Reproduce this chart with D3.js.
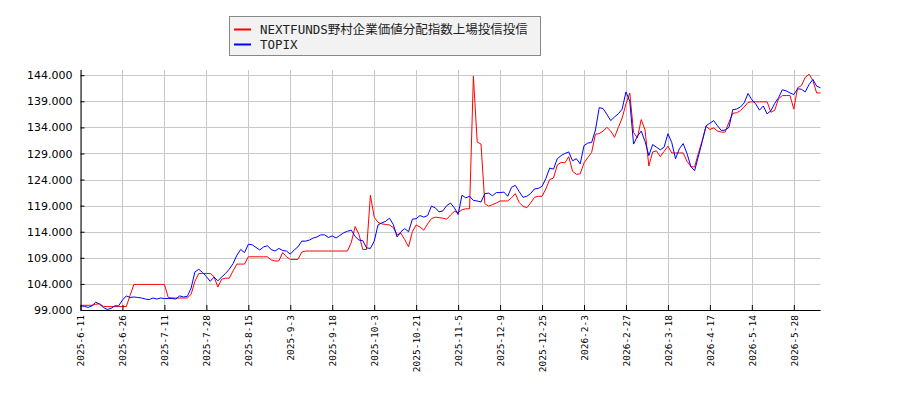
<!DOCTYPE html>
<html><head><meta charset="utf-8">
<script src="https://cdn.jsdelivr.net/npm/d3@7"></script>
<style>body{margin:0;background:#fff}</style>
</head><body>
<svg id="c" width="900" height="400"></svg>
<script>
const seriesNames = ["NEXTFUNDS野村企業価値分配指数上場投信投信", "TOPIX"];
const seriesColors = ["#ff0000", "#0000ff"];
const tickLabels = ["2025-6-11","2025-6-26","2025-7-11","2025-7-28","2025-8-15","2025-9-3","2025-9-18","2025-10-3","2025-10-21","2025-11-5","2025-12-9","2025-12-25","2026-2-3","2026-2-27","2026-3-18","2026-4-17","2026-5-14","2026-5-28"];
const tickStep = 11;
const yTicks = [99,104,109,114,119,124,129,134,139,144];
const yDomain = [99,145];

const nextfunds = [
99.9,99.9,99.9,99.9,100.1,100.2,99.7,99.65,99.65,99.65,
99.65,99.65,99.65,101.8,103.9,103.9,103.9,103.9,103.9,103.9,
103.9,103.9,103.9,101.4,101.3,101.3,101.3,101.3,101.3,102.0,
104.5,106.0,106.0,106.0,106.0,105.4,103.4,104.9,105.1,105.1,
106.5,107.8,107.8,107.8,109.2,109.2,109.2,109.2,109.2,109.2,
108.6,108.4,108.4,110.0,109.2,108.7,108.7,108.7,110.1,110.3,
110.3,110.3,110.3,110.3,110.3,110.3,110.3,110.3,110.3,110.3,
110.3,112.0,115.0,113.5,110.6,110.6,121.0,116.8,115.8,115.5,
115.4,115.3,114.8,113.4,113.7,112.5,111.1,114.0,115.3,114.9,
114.3,115.5,116.5,116.8,116.7,116.6,116.4,117.2,117.9,117.7,
118.2,118.4,118.4,143.8,131.2,130.8,119.4,118.9,119.2,119.5,
119.9,119.9,119.9,120.5,121.3,119.6,118.9,118.6,119.5,120.6,
120.8,120.8,122.2,124.0,124.3,126.8,127.3,127.2,128.4,125.6,
125.0,125.1,127.2,128.2,129.2,132.7,132.8,133.3,134.0,133.3,
132.1,134.0,135.8,138.5,140.6,133.0,132.0,135.5,133.5,126.6,
129.3,129.5,128.4,129.4,130.4,129.1,129.1,129.1,129.1,127.5,
126.5,126.4,129.1,131.5,134.2,133.6,133.9,133.3,133.1,133.1,
135.0,136.7,136.8,137.2,137.9,138.8,138.9,138.9,138.9,138.9,
138.9,136.9,137.3,139.5,140.1,140.1,140.1,137.5,141.6,142.0,
143.6,144.2,143.0,140.6,140.6];

const topix = [
99.8,99.7,99.5,99.8,100.5,100.1,99.5,99.1,99.3,99.8,
99.8,100.9,101.7,101.4,101.5,101.4,101.3,101.1,101.0,101.3,
101.1,101.3,101.2,101.2,101.2,101.1,101.7,101.5,101.6,103.2,
106.3,106.8,106.2,105.4,104.5,105.3,104.6,105.3,106.0,106.8,
107.9,109.5,110.6,110.0,111.6,111.5,111.0,110.5,111.1,111.3,
110.6,110.3,110.8,110.4,110.3,109.7,110.5,111.1,112.2,112.2,
112.4,112.8,113.0,113.4,113.4,112.9,113.2,112.8,113.3,113.8,
114.1,114.3,113.1,112.4,112.3,110.9,110.8,112.2,115.3,115.7,
116.0,116.6,115.4,113.0,114.0,114.6,114.0,116.4,116.5,117.1,
116.8,117.1,118.9,118.6,117.8,118.0,119.0,119.5,118.6,117.3,
121.0,120.5,120.8,120.0,119.9,119.7,121.3,121.4,120.9,121.5,
121.5,121.6,120.8,122.5,122.9,121.7,120.6,120.8,121.3,122.2,
122.3,122.7,124.2,126.2,126.0,128.0,128.6,129.0,129.3,127.6,
128.0,127.0,130.5,131.0,131.1,133.5,137.8,137.6,136.5,135.3,
136.0,136.6,137.5,140.8,139.0,130.8,132.3,133.3,131.3,128.6,
130.7,130.2,129.7,130.2,132.8,131.1,128.0,129.9,130.9,129.0,
126.5,125.7,128.5,131.3,134.3,134.8,135.3,134.3,133.4,133.5,
134.0,137.4,137.5,137.9,138.7,140.5,139.3,138.5,137.3,138.1,
136.6,137.2,138.6,139.7,141.2,141.0,140.6,140.3,141.4,141.3,
140.8,142.2,143.2,141.9,141.6];

const svg = d3.select("#c");
const L = 80.5, R = 820.5, T = 70, B = 310;
const x = d3.scaleLinear().domain([0, topix.length - 1]).range([L, R]);
const y = d3.scaleLinear().domain(yDomain).range([B, T]);
const tickIdx = tickLabels.map((_, k) => k * tickStep);

// grid
const g = svg.append("g");
g.selectAll("line.v").data(tickIdx).join("line")
  .attr("x1", d => Math.round(x(d)) + 0.5).attr("x2", d => Math.round(x(d)) + 0.5)
  .attr("y1", T).attr("y2", B).attr("stroke", "#c8c8c8").attr("stroke-width", 1);
g.selectAll("line.h").data(yTicks).join("line")
  .attr("x1", L).attr("x2", R)
  .attr("y1", d => Math.round(y(d)) + 0.5).attr("y2", d => Math.round(y(d)) + 0.5)
  .attr("stroke", "#c8c8c8").attr("stroke-width", 1);

// lines
const line = d3.line().x((d, i) => x(i)).y(d => y(d));
[nextfunds, topix].forEach((s, k) => {
  svg.append("path").datum(s).attr("d", line).attr("fill", "none")
    .attr("stroke", seriesColors[k]).attr("stroke-width", 1);
});

// axes
const ya = svg.append("g").attr("transform", `translate(${L},0)`)
  .call(d3.axisLeft(y).tickValues(yTicks).tickSize(-4).tickSizeOuter(0).tickPadding(8).tickFormat(d3.format(".3f")));
ya.selectAll("text").attr("font-family", "DejaVu Sans").attr("font-size", 11).attr("fill", "#000");
ya.select(".domain").attr("d", `M0.5,${T}V${B}`).attr("stroke", "#000");

const xa = svg.append("g").attr("transform", `translate(0,${B})`)
  .call(d3.axisBottom(x).tickValues(tickIdx).tickSize(-5).tickSizeOuter(0).tickFormat((d, k) => tickLabels[k]));
xa.select(".domain").attr("d", `M${L},0.5H${R}`).attr("stroke", "#000");
xa.selectAll("text").attr("transform", "rotate(-90)").attr("x", -5).attr("y", 0)
  .attr("dy", "0.35em").attr("text-anchor", "end")
  .attr("font-family", "DejaVu Sans Mono").attr("font-size", 9.5).attr("fill", "#000");

// legend
const lg = svg.append("g");
lg.append("rect").attr("x", 229.5).attr("y", 16.5).attr("width", 311).attr("height", 39)
  .attr("fill", "#f2f2f2").attr("stroke", "#888");
seriesNames.forEach((n, k) => {
  const yy = 29.5 + k * 15;
  lg.append("line").attr("x1", 234).attr("x2", 251).attr("y1", yy).attr("y2", yy)
    .attr("stroke", seriesColors[k]).attr("stroke-width", 2);
  lg.append("text").attr("x", 260).attr("y", yy).attr("dy", "0.35em")
    .attr("font-family", "DejaVu Sans Mono, Noto Sans CJK JP").attr("font-size", 12.5)
    .attr("fill", "#222").text(n);
});
</script>
</body></html>
